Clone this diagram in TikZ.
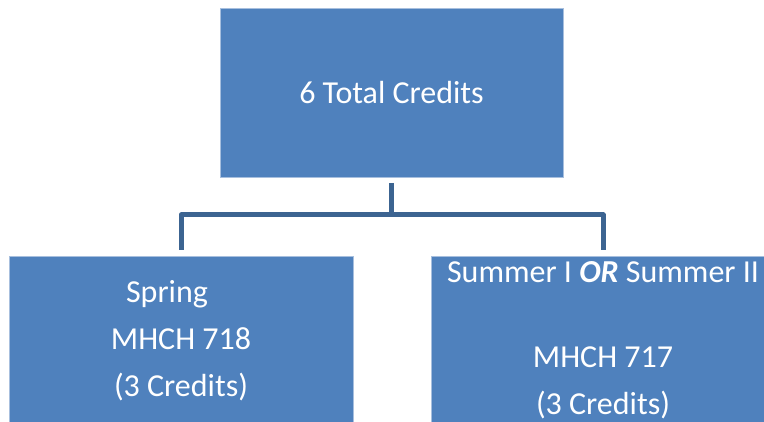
\documentclass[tikz,border=0pt]{standalone}
\usepackage{fontspec}
\setmainfont{Carlito}
\usetikzlibrary{calc, positioning}

\begin{document}
\begin{tikzpicture}[x=1pt, y=-1pt]
    % Define colors
    \definecolor{boxColour}{HTML}{4F81BD}
    \definecolor{edgeColour}{HTML}{A7BFDE}
    \definecolor{lineColour}{HTML}{3C6491}

    % Define styles
    \tikzset{
        creditbox/.style={rectangle, fill=boxColour, draw=edgeColour, line width=0.6pt,
            minimum width=343pt, minimum height=169pt, inner sep=0pt, outer ysep=6pt,
            text=white, align=center, font=\fontsize{32}{47}\selectfont},
        connector/.style={draw=lineColour, line width=5pt, line join=round}
    }

    % Fix the picture size
    \useasboundingbox (0,0) rectangle (764,422);
    \clip (0,0) rectangle (764,422);

    % Draw boxes
    \node[creditbox] (total) at (391.5,92.5) {6 Total Credits};
    \node[creditbox, minimum width=344pt] (spring) at (181,340.5)
        {Spring\hspace*{28pt}\\MHCH 718\\(3 Credits)};
    \node[creditbox, minimum width=344pt] (summer) at (603,340.5)
        {Summer I \textbf{\textit{OR}} Summer II\\[-9pt] \\MHCH 717\\(3 Credits)};

    % Split point below the top box
    \coordinate (split) at ($(total.south)+(0,32)$);

    % Draw connectors
    \draw[connector] (total.south) -- (split) -| (spring.north);
    \draw[connector] (split) -| (summer.north);

\end{tikzpicture}
\end{document}
